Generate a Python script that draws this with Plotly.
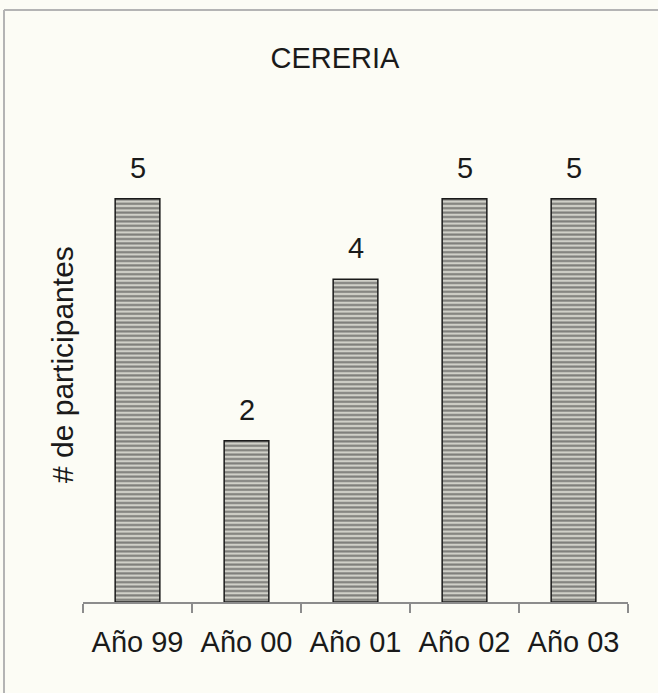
import plotly.graph_objects as go

categories = ["Año 99", "Año 00", "Año 01", "Año 02", "Año 03"]
values = [5, 2, 4, 5, 5]
value_labels = ["5", "2", "4", "5", "5"]
title_text = "CERERIA"
y_title = "# de participantes"

W, H = 658, 693
ML, MR, MT, MB = 83, 30, 118, 91
PW = W - ML - MR
PH = H - MT - MB

FONT = "Liberation Sans, Arial, sans-serif"
BG = "#fcfcf5"

fig = go.Figure()
fig.add_trace(go.Bar(
    x=categories, y=values,
    marker=dict(
        color="#d0d0c8",
        line=dict(color="#1a1a1a", width=1.5),
        pattern=dict(shape="-", fgcolor="#2a2a2a", bgcolor="#d0d0c8", size=4.4, solidity=0.48),
    ),
    width=0.41,
    hoverinfo="skip",
))

for c, v, t in zip(categories, values, value_labels):
    fig.add_annotation(x=c, y=v, text=t, showarrow=False, yanchor="bottom",
                       yshift=13, font=dict(family=FONT, size=29, color="#1a1a1a"))

def px_x(p):
    return (p - ML) / PW

def px_y(p):
    return (H - MB - p) / PH

# frame lines (top and left)
fig.add_shape(type="line", xref="paper", yref="paper",
              x0=px_x(4), x1=px_x(W + 5), y0=px_y(10), y1=px_y(10),
              line=dict(color="#b4b4b4", width=2))
fig.add_shape(type="line", xref="paper", yref="paper",
              x0=px_x(4), x1=px_x(4), y0=px_y(10), y1=px_y(H + 5),
              line=dict(color="#b4b4b4", width=2))

fig.add_annotation(xref="paper", yref="paper", x=px_x(62), y=px_y(365),
                   text=y_title, textangle=-90, showarrow=False,
                   xanchor="center", yanchor="middle",
                   font=dict(family=FONT, size=30, color="#1a1a1a"))

fig.update_layout(
    width=W, height=H,
    margin=dict(l=ML, r=MR, t=MT, b=MB, pad=0),
    paper_bgcolor=BG, plot_bgcolor=BG,
    showlegend=False,
    title=dict(text=title_text, xref="container", yref="container",
               x=335 / W, y=1 - 58 / H, xanchor="center", yanchor="middle",
               font=dict(family=FONT, size=29, color="#1a1a1a")),
    xaxis=dict(
        showline=True, linecolor="#8c8c8c", linewidth=1.5,
        ticks="outside", ticklen=9, tickcolor="#8c8c8c", tickwidth=1.5,
        tickson="boundaries", showgrid=False,
        tickfont=dict(family=FONT, size=29, color="#1a1a1a"),
        ticklabelstandoff=13,
    ),
    yaxis=dict(range=[0, 6], visible=False, showgrid=False, zeroline=False),
)

fig.write_html("out.html", config={"displayModeBar": False},
               post_script="document.body.style.margin='0';document.body.style.overflow='hidden';")
